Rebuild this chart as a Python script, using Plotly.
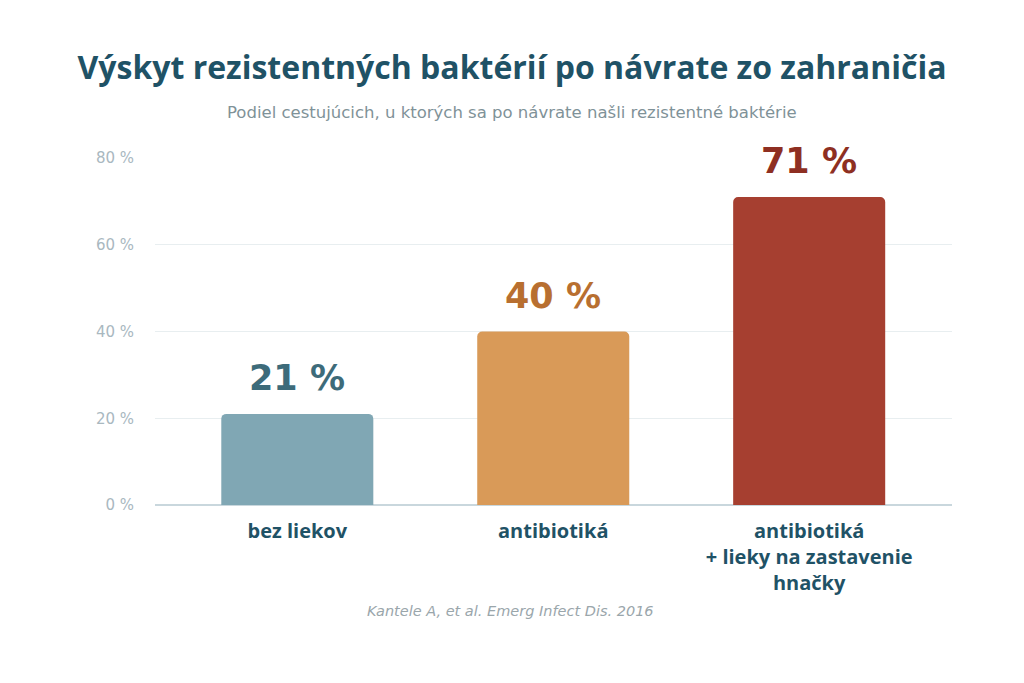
import plotly.graph_objects as go

categories = ["bez liekov", "antibiotiká", "antibiotiká<br>+ lieky na zastavenie<br>hnačky"]
values = [21, 40, 71]
value_labels = ["21 %", "40 %", "71 %"]
bar_colors = ["#80a7b4", "#d99a58", "#a63f30"]
label_colors = ["#3d6b7a", "#b86f30", "#8e2f22"]
tick_vals = [0, 20, 40, 60, 80]
tick_text = ["0 %", "20 %", "40 %", "60 %", "80 %"]

# page body has an 8px offset; margins compensate
L, T, R, B = 147, 150, 80, 186
W, H = 1024, 683

fig = go.Figure()
fig.add_trace(go.Bar(
    x=categories, y=values,
    marker=dict(color=bar_colors, cornerradius=5, line=dict(width=0)),
    width=0.594, hoverinfo="skip",
))

for c, v, t, col in zip(categories, values, value_labels, label_colors):
    fig.add_annotation(x=c, y=v, text=t, showarrow=False, yanchor="bottom", yshift=14,
                       font=dict(family="DejaVu Sans", size=35, color=col, weight="bold"))

fig.update_layout(
    width=W, height=H,
    paper_bgcolor="white", plot_bgcolor="white",
    margin=dict(l=L, r=R, t=T, b=B),
    showlegend=False,
    title=dict(text="Výskyt rezistentných baktérií po návrate zo zahraničia",
               x=(512 - 8 - L) / (W - L - R) * 0 + (504) / W, xanchor="center",
               y=1 - 60 / H, yanchor="middle",
               font=dict(family="Open Sans", size=32, color="#1f5266", weight="bold")),
    xaxis=dict(range=[-0.556, 2.558], showgrid=False, showline=False, ticks="",
               ticklabelstandoff=12,
               tickfont=dict(family="Open Sans", size=20, color="#1f5266", weight="bold"),
               fixedrange=True),
    yaxis=dict(range=[0, 80], tickvals=tick_vals, ticktext=tick_text, showgrid=True,
               gridcolor="#e8eef0", gridwidth=1, zeroline=True, zerolinecolor="#c9d7dd",
               zerolinewidth=2, showline=False, ticks="", ticklabelstandoff=20,
               tickfont=dict(family="DejaVu Sans", size=15, color="#a9b8bf")),
)

fig.add_annotation(xref="paper", yref="paper", x=(512 - 8 - L) / (W - L - R), y=1, yshift=46,
                   xanchor="center", yanchor="middle",
                   text="Podiel cestujúcich, u ktorých sa po návrate našli rezistentné baktérie", showarrow=False,
                   font=dict(family="DejaVu Sans", size=16.5, color="#7f9298"))
fig.add_annotation(xref="paper", yref="paper", x=(510 - 8 - L) / (W - L - R), y=0, yshift=-106,
                   xanchor="center", yanchor="middle",
                   text="<i>Kantele A, et al. Emerg Infect Dis. 2016</i>", showarrow=False,
                   font=dict(family="DejaVu Sans", size=14.5, color="#9aa6ab"))

fig.write_html("out.html")
